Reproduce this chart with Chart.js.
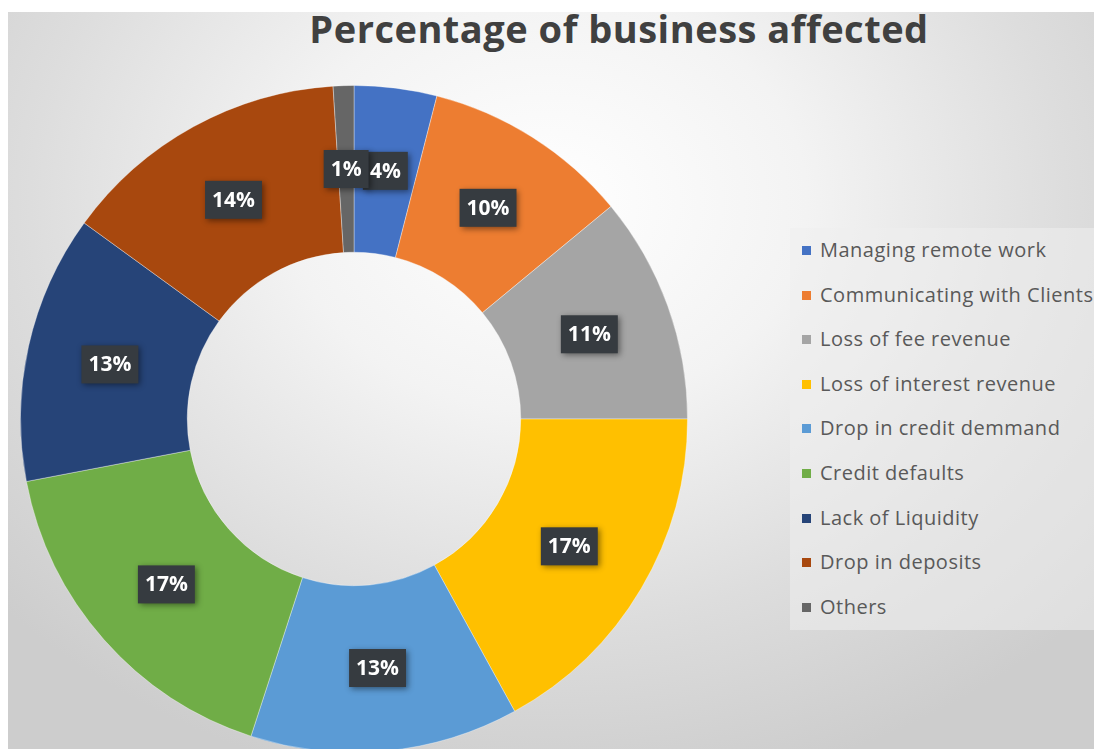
<!DOCTYPE html>
<html>
<head>
<meta charset="utf-8">
<script src="https://cdn.jsdelivr.net/npm/chart.js@4"></script>
<style>
  html, body {
    margin: 0;
    padding: 0;
    width: 1094px;
    height: 749px;
    overflow: hidden;
    background: #ffffff;
  }
  #panel {
    position: absolute;
    left: 8px;
    top: 12px;
    width: 1086px;
    height: 737px;
    background: radial-gradient(ellipse 740px 600px at 540px 190px, #ffffff 0%, #f3f3f3 35%, #dddddd 70%, #cdcdcd 100%);
    overflow: hidden;
  }
  #title {
    position: absolute;
    left: 0;
    top: -10px;
    width: 1222px;
    text-align: center;
    font-family: "Open Sans", Lato, sans-serif;
    font-weight: bold;
    font-size: 38px;
    letter-spacing: 0.5px;
    color: #404040;
    white-space: nowrap;
  }
  #chartBox {
    position: absolute;
    left: 12px;
    top: 73px;
    width: 668px;
    height: 668px;
  }
  #legend {
    position: absolute;
    left: 782px;
    top: 216px;
    width: 320px;
    height: 402px;
    background: rgba(238, 238, 238, 0.55);
    font-family: "Open Sans", Lato, sans-serif;
    font-size: 20px;
    letter-spacing: 0.5px;
    color: #595959;
  }
  .item {
    position: absolute;
    left: 12px;
    white-space: nowrap;
    line-height: 22px;
  }
  .item span.box {
    display: inline-block;
    width: 9px;
    height: 9px;
    margin-right: 9px;
    vertical-align: 2px;
  }
</style>
</head>
<body>
<div id="panel">
  <div id="title">Percentage of business affected</div>
  <div id="chartBox"><canvas id="donut" width="668" height="668"></canvas></div>
  <div id="legend"></div>
</div>
<script>
// Share of businesses reporting each problem (%)
const categories = [
    "Managing remote work",
    "Communicating with Clients",
    "Loss of fee revenue",
    "Loss of interest revenue",
    "Drop in credit demmand",
    "Credit defaults",
    "Lack of Liquidity",
    "Drop in deposits",
    "Others"
];
const shares = [4, 10, 11, 17, 13, 17, 13, 14, 1];
const sliceColors = [
    "#4472C4", "#ED7D31", "#A5A5A5", "#FFC000", "#5B9BD5",
    "#70AD47", "#264478", "#A8480E", "#666666"
];

// Dark value boxes on top of each slice, like Excel's data callouts
const valueBoxes = {
    id: "valueBoxes",
    afterDatasetsDraw(chart) {
        const ctx = chart.ctx;
        const meta = chart.getDatasetMeta(0);
        const values = chart.data.datasets[0].data;
        ctx.save();
        ctx.font = "bold 21px 'Open Sans', Lato, sans-serif";
        ctx.textAlign = "center";
        ctx.textBaseline = "middle";
        const spots = meta.data.map(function(arc, i) {
            const p = arc.tooltipPosition();
            const text = values[i] + "%";
            return { x: p.x, y: p.y, text: text, w: ctx.measureText(text).width + 14 };
        });
        spots.forEach(function(s) {
            ctx.shadowColor = "rgba(0,0,0,0.45)";
            ctx.shadowBlur = 6;
            ctx.shadowOffsetX = 2;
            ctx.shadowOffsetY = 2;
            ctx.fillStyle = "#363b40";
            ctx.fillRect(s.x - s.w / 2, s.y - 19, s.w, 38);
        });
        ctx.shadowColor = "transparent";
        ctx.fillStyle = "#ffffff";
        spots.forEach(function(s) {
            ctx.fillText(s.text, s.x, s.y + 1);
        });
        ctx.restore();
    }
};

const donutChart = new Chart(document.getElementById("donut"), {
    type: "doughnut",
    data: {
        labels: categories,
        datasets: [{
            data: shares,
            backgroundColor: sliceColors,
            borderColor: "rgba(255,255,255,0.35)",
            borderWidth: 1
        }]
    },
    options: {
        responsive: false,
        animation: false,
        cutout: "50%",
        layout: { padding: 0 },
        plugins: {
            legend: { display: false },
            tooltip: { enabled: false }
        }
    },
    plugins: [valueBoxes]
});

// Legend built from the chart's own legend items
const legendEl = document.getElementById("legend");
const items = Chart.overrides.doughnut.plugins.legend.labels.generateLabels(donutChart);
items.forEach(function(it, i) {
    const row = document.createElement("div");
    row.className = "item";
    row.style.top = (11 + i * 44.6) + "px";
    const box = document.createElement("span");
    box.className = "box";
    box.style.background = it.fillStyle;
    row.appendChild(box);
    row.appendChild(document.createTextNode(it.text));
    legendEl.appendChild(row);
});
</script>
</body>
</html>
